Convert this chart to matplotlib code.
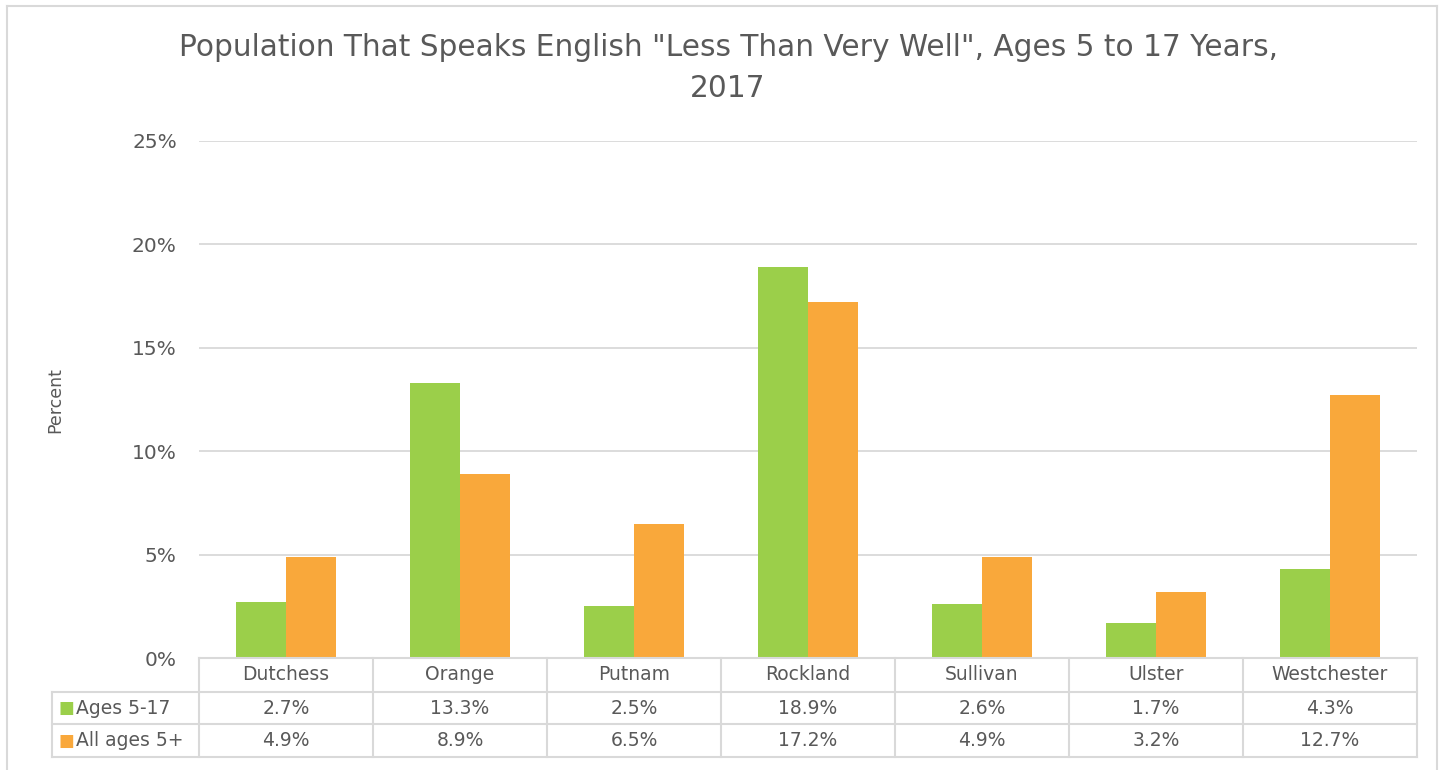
import matplotlib.pyplot as plt
import numpy as np
from matplotlib.lines import Line2D

counties = ["Dutchess", "Orange", "Putnam", "Rockland", "Sullivan", "Ulster", "Westchester"]
ages_5_17 = [2.7, 13.3, 2.5, 18.9, 2.6, 1.7, 4.3]
all_ages_5 = [4.9, 8.9, 6.5, 17.2, 4.9, 3.2, 12.7]
series_names = ["Ages 5-17", "All ages 5+"]
yticks = [0, 5, 10, 15, 20, 25]

green = "#9BCF4A"
orange = "#F9A83B"
grid_c = "#D9D9D9"
text_c = "#595959"

plt.rcParams['font.family'] = ['DejaVu Sans']

W, H = 1448, 770
fig = plt.figure(figsize=(W / 100, H / 100), dpi=100)

# plot area in pixels
x0, x1, ytop, ybot = 199, 1417, 141, 658
ax = fig.add_axes([x0 / W, 1 - ybot / H, (x1 - x0) / W, (ybot - ytop) / H])

x = np.arange(len(counties))
bw = 0.2875
ax.bar(x - bw / 2, ages_5_17, width=bw, color=green, zorder=3)
ax.bar(x + bw / 2, all_ages_5, width=bw, color=orange, zorder=3)

ax.set_xlim(-0.5, len(counties) - 0.5)
ax.set_ylim(0, 25)
ax.set_yticks(yticks)
ax.set_yticklabels([f"{t}%" for t in yticks], fontsize=14.5, color=text_c)
ax.tick_params(axis='y', length=0, pad=16)
ax.set_xticks([])
ax.grid(axis='y', color=grid_c, linewidth=1.3, zorder=0)
for s in ax.spines.values():
    s.set_visible(False)

fig.text(55 / W, 1 - 400 / H, "Percent", rotation=90, ha='center', va='center',
         fontsize=12.5, color=text_c)

fig.text(728 / W, 1 - 68 / H,
         'Population That Speaks English "Less Than Very Well", Ages 5 to 17 Years,\n2017',
         ha='center', va='center', fontsize=21.3, color=text_c, linespacing=1.5)


# table below the axes, drawn in pixel coords
def px(xp, yp):
    return xp / W, 1 - yp / H


def hline(xa, xb, yp):
    (fa, fy), (fb, _) = px(xa, yp), px(xb, yp)
    fig.add_artist(Line2D([fa, fb], [fy, fy], color=grid_c, linewidth=1.5))


def vline(xp, ya, yb):
    (fx, fa), (_, fb) = px(xp, ya), px(xp, yb)
    fig.add_artist(Line2D([fx, fx], [fa, fb], color=grid_c, linewidth=1.5))


rows = [658, 692, 724, 757]
tab_left = 52
hline(x0, x1, rows[0])
for r in rows[1:]:
    hline(tab_left, x1, r)
vline(tab_left, rows[1], rows[3])
colw = (x1 - x0) / len(counties)
for i in range(len(counties) + 1):
    vline(x0 + i * colw, rows[0], rows[3])

fs = 13.5
for i, name in enumerate(counties):
    cx = x0 + (i + 0.5) * colw
    fig.text(*px(cx, (rows[0] + rows[1]) / 2), name, ha='center', va='center',
             fontsize=fs, color=text_c)
    fig.text(*px(cx, (rows[1] + rows[2]) / 2), f"{ages_5_17[i]:.1f}%", ha='center',
             va='center', fontsize=fs, color=text_c)
    fig.text(*px(cx, (rows[2] + rows[3]) / 2), f"{all_ages_5[i]:.1f}%", ha='center',
             va='center', fontsize=fs, color=text_c)

for j, (name, col) in enumerate(zip(series_names, [green, orange])):
    yc = (rows[j + 1] + rows[j + 2]) / 2
    fig.text(*px(59, yc), "\u25A0", ha='left', va='center', fontsize=12, color=col)
    fig.text(*px(76, yc), name, ha='left', va='center', fontsize=fs, color=text_c)

# outer chart border
vline(7, 6, H)
vline(1437, 6, H)
hline(7, 1437, 6)

fig.savefig("out.png", dpi=100, facecolor='white')
